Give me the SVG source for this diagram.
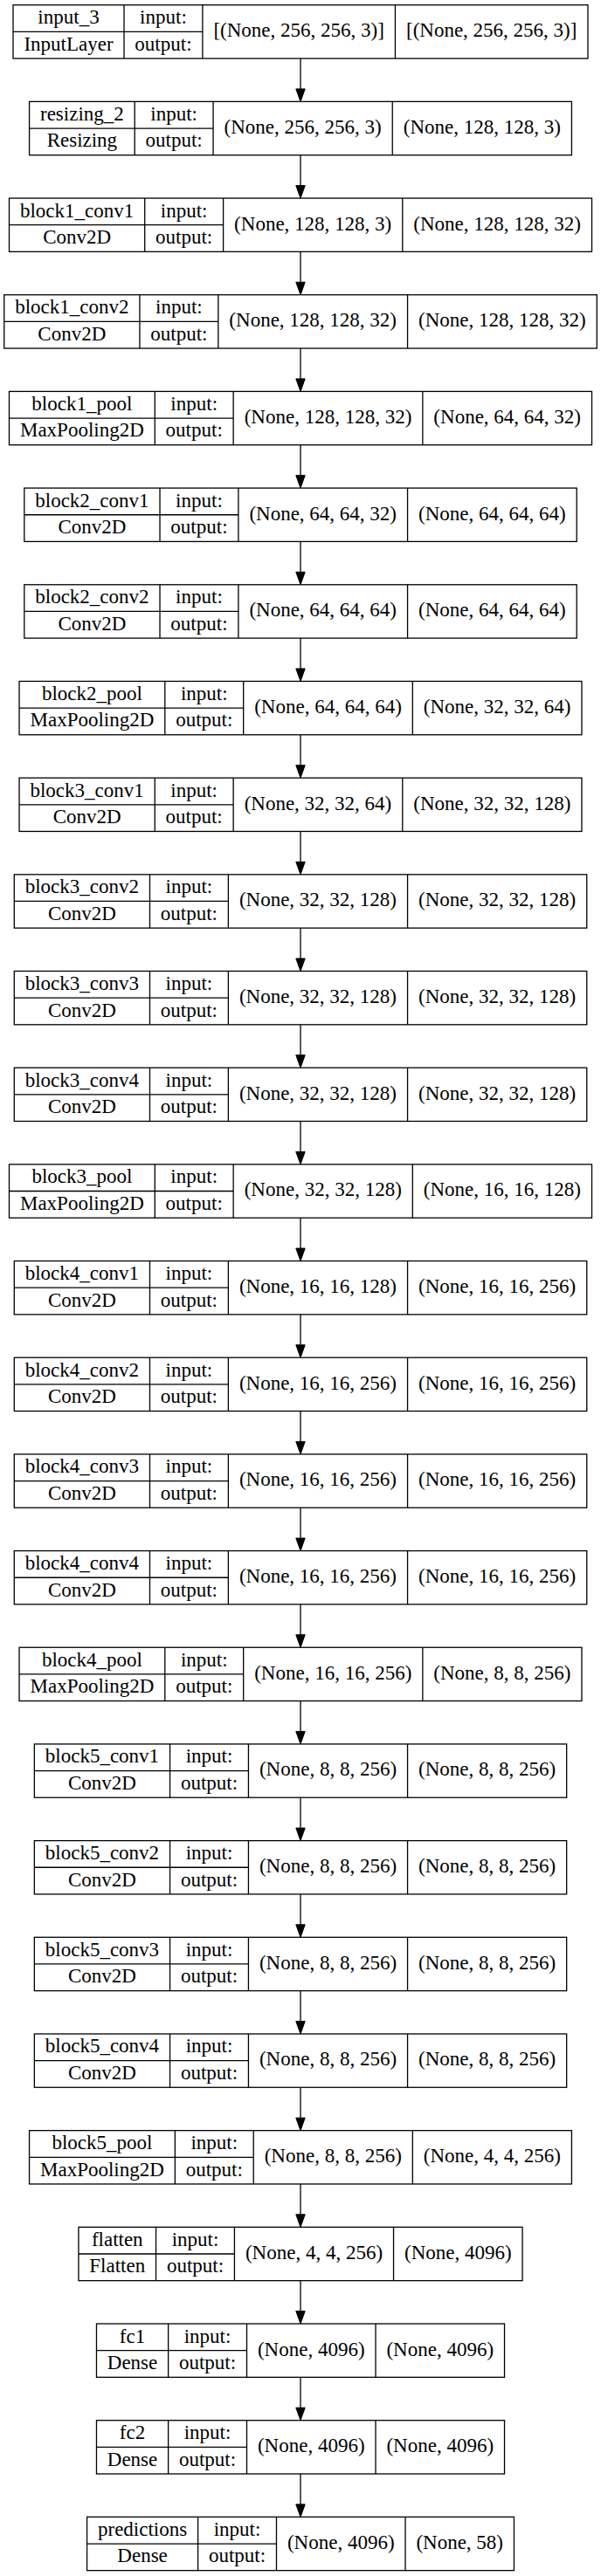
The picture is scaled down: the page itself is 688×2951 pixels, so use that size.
<svg xmlns="http://www.w3.org/2000/svg" width="688" height="2951" viewBox="0 0 688 2951">
<defs>
<style>
.node rect{fill:#fff;stroke:#000;stroke-width:1.3}
.node path{fill:none;stroke:#000;stroke-width:1.3}
.node text{font-family:"Liberation Serif","Times New Roman",serif;font-size:23px;text-anchor:middle;fill:#000}
.edges path{fill:none;stroke:#000;stroke-width:1.3}
</style>
<marker id="ah" markerUnits="userSpaceOnUse" markerWidth="16" markerHeight="12" refX="0" refY="5.2" orient="auto" overflow="visible">
<path d="M0,0 L14.5,5.2 L0,10.4 z" fill="#000" stroke="#000" stroke-width="1"/>
</marker>
</defs>
<rect x="0" y="0" width="688" height="2951" fill="#fff"/>
<g class="edges" id="connectors">
<path marker-end="url(#ah)" d="M344,67.0V101.88"/>
<path marker-end="url(#ah)" d="M344,177.68V212.56"/>
<path marker-end="url(#ah)" d="M344,288.36V323.24"/>
<path marker-end="url(#ah)" d="M344,399.04V433.92"/>
<path marker-end="url(#ah)" d="M344,509.72V544.60"/>
<path marker-end="url(#ah)" d="M344,620.40V655.28"/>
<path marker-end="url(#ah)" d="M344,731.08V765.96"/>
<path marker-end="url(#ah)" d="M344,841.76V876.64"/>
<path marker-end="url(#ah)" d="M344,952.44V987.32"/>
<path marker-end="url(#ah)" d="M344,1063.12V1098.00"/>
<path marker-end="url(#ah)" d="M344,1173.80V1208.68"/>
<path marker-end="url(#ah)" d="M344,1284.48V1319.36"/>
<path marker-end="url(#ah)" d="M344,1395.16V1430.04"/>
<path marker-end="url(#ah)" d="M344,1505.84V1540.72"/>
<path marker-end="url(#ah)" d="M344,1616.52V1651.40"/>
<path marker-end="url(#ah)" d="M344,1727.20V1762.08"/>
<path marker-end="url(#ah)" d="M344,1837.88V1872.76"/>
<path marker-end="url(#ah)" d="M344,1948.56V1983.44"/>
<path marker-end="url(#ah)" d="M344,2059.24V2094.12"/>
<path marker-end="url(#ah)" d="M344,2169.92V2204.80"/>
<path marker-end="url(#ah)" d="M344,2280.60V2315.48"/>
<path marker-end="url(#ah)" d="M344,2391.28V2426.16"/>
<path marker-end="url(#ah)" d="M344,2501.96V2536.84"/>
<path marker-end="url(#ah)" d="M344,2612.64V2647.52"/>
<path marker-end="url(#ah)" d="M344,2723.32V2758.20"/>
<path marker-end="url(#ah)" d="M344,2834.00V2868.88"/>
</g>

<g id="input_3" class="node" transform="translate(0,5.7)">
<rect x="15.01" y="0" width="657.98" height="61.3"/>
<path d="M142.01,0V61.3M231.89,0V61.3M452.44,0V61.3M15.01,30.65H231.89"/>
<text x="78.51" y="21.5">input_3</text><text x="78.51" y="52">InputLayer</text>
<text x="186.95" y="21.5">input:</text><text x="186.95" y="52">output:</text>
<text x="342.17" y="36.5">[(None, 256, 256, 3)]</text><text x="562.72" y="36.5">[(None, 256, 256, 3)]</text>
</g>

<g id="resizing_2" class="node" transform="translate(0,116.38)">
<rect x="33.58" y="0" width="620.85" height="61.3"/>
<path d="M154.19,0V61.3M244.07,0V61.3M449.25,0V61.3M33.58,30.65H244.07"/>
<text x="93.88" y="21.5">resizing_2</text><text x="93.88" y="52">Resizing</text>
<text x="199.13" y="21.5">input:</text><text x="199.13" y="52">output:</text>
<text x="346.66" y="36.5">(None, 256, 256, 3)</text><text x="551.84" y="36.5">(None, 128, 128, 3)</text>
</g>

<g id="block1_conv1" class="node" transform="translate(0,227.06)">
<rect x="10.51" y="0" width="666.99" height="61.3"/>
<path d="M165.72,0V61.3M255.60,0V61.3M460.78,0V61.3M10.51,30.65H255.60"/>
<text x="88.11" y="21.5">block1_conv1</text><text x="88.11" y="52">Conv2D</text>
<text x="210.66" y="21.5">input:</text><text x="210.66" y="52">output:</text>
<text x="358.19" y="36.5">(None, 128, 128, 3)</text><text x="569.14" y="36.5">(None, 128, 128, 32)</text>
</g>

<g id="block1_conv2" class="node" transform="translate(0,337.74)">
<rect x="4.74" y="0" width="678.53" height="61.3"/>
<path d="M159.95,0V61.3M249.83,0V61.3M466.55,0V61.3M4.74,30.65H249.83"/>
<text x="82.34" y="21.5">block1_conv2</text><text x="82.34" y="52">Conv2D</text>
<text x="204.89" y="21.5">input:</text><text x="204.89" y="52">output:</text>
<text x="358.19" y="36.5">(None, 128, 128, 32)</text><text x="574.91" y="36.5">(None, 128, 128, 32)</text>
</g>

<g id="block1_pool" class="node" transform="translate(0,448.42)">
<rect x="10.49" y="0" width="667.02" height="61.3"/>
<path d="M177.26,0V61.3M267.14,0V61.3M483.86,0V61.3M10.49,30.65H267.14"/>
<text x="93.87" y="21.5">block1_pool</text><text x="93.87" y="52">MaxPooling2D</text>
<text x="222.20" y="21.5">input:</text><text x="222.20" y="52">output:</text>
<text x="375.50" y="36.5">(None, 128, 128, 32)</text><text x="580.69" y="36.5">(None, 64, 64, 32)</text>
</g>

<g id="block2_conv1" class="node" transform="translate(0,559.10)">
<rect x="27.81" y="0" width="632.39" height="61.3"/>
<path d="M183.02,0V61.3M272.90,0V61.3M466.55,0V61.3M27.81,30.65H272.90"/>
<text x="105.41" y="21.5">block2_conv1</text><text x="105.41" y="52">Conv2D</text>
<text x="227.96" y="21.5">input:</text><text x="227.96" y="52">output:</text>
<text x="369.72" y="36.5">(None, 64, 64, 32)</text><text x="563.38" y="36.5">(None, 64, 64, 64)</text>
</g>

<g id="block2_conv2" class="node" transform="translate(0,669.78)">
<rect x="27.81" y="0" width="632.39" height="61.3"/>
<path d="M183.02,0V61.3M272.90,0V61.3M466.55,0V61.3M27.81,30.65H272.90"/>
<text x="105.41" y="21.5">block2_conv2</text><text x="105.41" y="52">Conv2D</text>
<text x="227.96" y="21.5">input:</text><text x="227.96" y="52">output:</text>
<text x="369.72" y="36.5">(None, 64, 64, 64)</text><text x="563.38" y="36.5">(None, 64, 64, 64)</text>
</g>

<g id="block2_pool" class="node" transform="translate(0,780.46)">
<rect x="22.03" y="0" width="643.95" height="61.3"/>
<path d="M188.80,0V61.3M278.68,0V61.3M472.33,0V61.3M22.03,30.65H278.68"/>
<text x="105.41" y="21.5">block2_pool</text><text x="105.41" y="52">MaxPooling2D</text>
<text x="233.74" y="21.5">input:</text><text x="233.74" y="52">output:</text>
<text x="375.50" y="36.5">(None, 64, 64, 64)</text><text x="569.15" y="36.5">(None, 32, 32, 64)</text>
</g>

<g id="block3_conv1" class="node" transform="translate(0,891.14)">
<rect x="22.04" y="0" width="643.92" height="61.3"/>
<path d="M177.25,0V61.3M267.13,0V61.3M460.78,0V61.3M22.04,30.65H267.13"/>
<text x="99.64" y="21.5">block3_conv1</text><text x="99.64" y="52">Conv2D</text>
<text x="222.19" y="21.5">input:</text><text x="222.19" y="52">output:</text>
<text x="363.95" y="36.5">(None, 32, 32, 64)</text><text x="563.37" y="36.5">(None, 32, 32, 128)</text>
</g>

<g id="block3_conv2" class="node" transform="translate(0,1001.82)">
<rect x="16.28" y="0" width="655.45" height="61.3"/>
<path d="M171.49,0V61.3M261.37,0V61.3M466.55,0V61.3M16.28,30.65H261.37"/>
<text x="93.88" y="21.5">block3_conv2</text><text x="93.88" y="52">Conv2D</text>
<text x="216.43" y="21.5">input:</text><text x="216.43" y="52">output:</text>
<text x="363.96" y="36.5">(None, 32, 32, 128)</text><text x="569.14" y="36.5">(None, 32, 32, 128)</text>
</g>

<g id="block3_conv3" class="node" transform="translate(0,1112.50)">
<rect x="16.28" y="0" width="655.45" height="61.3"/>
<path d="M171.49,0V61.3M261.37,0V61.3M466.55,0V61.3M16.28,30.65H261.37"/>
<text x="93.88" y="21.5">block3_conv3</text><text x="93.88" y="52">Conv2D</text>
<text x="216.43" y="21.5">input:</text><text x="216.43" y="52">output:</text>
<text x="363.96" y="36.5">(None, 32, 32, 128)</text><text x="569.14" y="36.5">(None, 32, 32, 128)</text>
</g>

<g id="block3_conv4" class="node" transform="translate(0,1223.18)">
<rect x="16.28" y="0" width="655.45" height="61.3"/>
<path d="M171.49,0V61.3M261.37,0V61.3M466.55,0V61.3M16.28,30.65H261.37"/>
<text x="93.88" y="21.5">block3_conv4</text><text x="93.88" y="52">Conv2D</text>
<text x="216.43" y="21.5">input:</text><text x="216.43" y="52">output:</text>
<text x="363.96" y="36.5">(None, 32, 32, 128)</text><text x="569.14" y="36.5">(None, 32, 32, 128)</text>
</g>

<g id="block3_pool" class="node" transform="translate(0,1333.86)">
<rect x="10.50" y="0" width="667.01" height="61.3"/>
<path d="M177.27,0V61.3M267.15,0V61.3M472.33,0V61.3M10.50,30.65H267.15"/>
<text x="93.88" y="21.5">block3_pool</text><text x="93.88" y="52">MaxPooling2D</text>
<text x="222.21" y="21.5">input:</text><text x="222.21" y="52">output:</text>
<text x="369.74" y="36.5">(None, 32, 32, 128)</text><text x="574.92" y="36.5">(None, 16, 16, 128)</text>
</g>

<g id="block4_conv1" class="node" transform="translate(0,1444.54)">
<rect x="16.28" y="0" width="655.45" height="61.3"/>
<path d="M171.49,0V61.3M261.37,0V61.3M466.55,0V61.3M16.28,30.65H261.37"/>
<text x="93.88" y="21.5">block4_conv1</text><text x="93.88" y="52">Conv2D</text>
<text x="216.43" y="21.5">input:</text><text x="216.43" y="52">output:</text>
<text x="363.96" y="36.5">(None, 16, 16, 128)</text><text x="569.14" y="36.5">(None, 16, 16, 256)</text>
</g>

<g id="block4_conv2" class="node" transform="translate(0,1555.22)">
<rect x="16.28" y="0" width="655.45" height="61.3"/>
<path d="M171.49,0V61.3M261.37,0V61.3M466.55,0V61.3M16.28,30.65H261.37"/>
<text x="93.88" y="21.5">block4_conv2</text><text x="93.88" y="52">Conv2D</text>
<text x="216.43" y="21.5">input:</text><text x="216.43" y="52">output:</text>
<text x="363.96" y="36.5">(None, 16, 16, 256)</text><text x="569.14" y="36.5">(None, 16, 16, 256)</text>
</g>

<g id="block4_conv3" class="node" transform="translate(0,1665.90)">
<rect x="16.28" y="0" width="655.45" height="61.3"/>
<path d="M171.49,0V61.3M261.37,0V61.3M466.55,0V61.3M16.28,30.65H261.37"/>
<text x="93.88" y="21.5">block4_conv3</text><text x="93.88" y="52">Conv2D</text>
<text x="216.43" y="21.5">input:</text><text x="216.43" y="52">output:</text>
<text x="363.96" y="36.5">(None, 16, 16, 256)</text><text x="569.14" y="36.5">(None, 16, 16, 256)</text>
</g>

<g id="block4_conv4" class="node" transform="translate(0,1776.58)">
<rect x="16.28" y="0" width="655.45" height="61.3"/>
<path d="M171.49,0V61.3M261.37,0V61.3M466.55,0V61.3M16.28,30.65H261.37"/>
<text x="93.88" y="21.5">block4_conv4</text><text x="93.88" y="52">Conv2D</text>
<text x="216.43" y="21.5">input:</text><text x="216.43" y="52">output:</text>
<text x="363.96" y="36.5">(None, 16, 16, 256)</text><text x="569.14" y="36.5">(None, 16, 16, 256)</text>
</g>

<g id="block4_pool" class="node" transform="translate(0,1887.26)">
<rect x="22.03" y="0" width="643.94" height="61.3"/>
<path d="M188.80,0V61.3M278.68,0V61.3M483.86,0V61.3M22.03,30.65H278.68"/>
<text x="105.41" y="21.5">block4_pool</text><text x="105.41" y="52">MaxPooling2D</text>
<text x="233.74" y="21.5">input:</text><text x="233.74" y="52">output:</text>
<text x="381.27" y="36.5">(None, 16, 16, 256)</text><text x="574.92" y="36.5">(None, 8, 8, 256)</text>
</g>

<g id="block5_conv1" class="node" transform="translate(0,1997.94)">
<rect x="39.35" y="0" width="609.31" height="61.3"/>
<path d="M194.56,0V61.3M284.44,0V61.3M466.55,0V61.3M39.35,30.65H284.44"/>
<text x="116.95" y="21.5">block5_conv1</text><text x="116.95" y="52">Conv2D</text>
<text x="239.50" y="21.5">input:</text><text x="239.50" y="52">output:</text>
<text x="375.50" y="36.5">(None, 8, 8, 256)</text><text x="557.60" y="36.5">(None, 8, 8, 256)</text>
</g>

<g id="block5_conv2" class="node" transform="translate(0,2108.62)">
<rect x="39.35" y="0" width="609.31" height="61.3"/>
<path d="M194.56,0V61.3M284.44,0V61.3M466.55,0V61.3M39.35,30.65H284.44"/>
<text x="116.95" y="21.5">block5_conv2</text><text x="116.95" y="52">Conv2D</text>
<text x="239.50" y="21.5">input:</text><text x="239.50" y="52">output:</text>
<text x="375.50" y="36.5">(None, 8, 8, 256)</text><text x="557.60" y="36.5">(None, 8, 8, 256)</text>
</g>

<g id="block5_conv3" class="node" transform="translate(0,2219.30)">
<rect x="39.35" y="0" width="609.31" height="61.3"/>
<path d="M194.56,0V61.3M284.44,0V61.3M466.55,0V61.3M39.35,30.65H284.44"/>
<text x="116.95" y="21.5">block5_conv3</text><text x="116.95" y="52">Conv2D</text>
<text x="239.50" y="21.5">input:</text><text x="239.50" y="52">output:</text>
<text x="375.50" y="36.5">(None, 8, 8, 256)</text><text x="557.60" y="36.5">(None, 8, 8, 256)</text>
</g>

<g id="block5_conv4" class="node" transform="translate(0,2329.98)">
<rect x="39.35" y="0" width="609.31" height="61.3"/>
<path d="M194.56,0V61.3M284.44,0V61.3M466.55,0V61.3M39.35,30.65H284.44"/>
<text x="116.95" y="21.5">block5_conv4</text><text x="116.95" y="52">Conv2D</text>
<text x="239.50" y="21.5">input:</text><text x="239.50" y="52">output:</text>
<text x="375.50" y="36.5">(None, 8, 8, 256)</text><text x="557.60" y="36.5">(None, 8, 8, 256)</text>
</g>

<g id="block5_pool" class="node" transform="translate(0,2440.66)">
<rect x="33.57" y="0" width="620.87" height="61.3"/>
<path d="M200.34,0V61.3M290.22,0V61.3M472.33,0V61.3M33.57,30.65H290.22"/>
<text x="116.95" y="21.5">block5_pool</text><text x="116.95" y="52">MaxPooling2D</text>
<text x="245.28" y="21.5">input:</text><text x="245.28" y="52">output:</text>
<text x="381.27" y="36.5">(None, 8, 8, 256)</text><text x="563.38" y="36.5">(None, 4, 4, 256)</text>
</g>

<g id="flatten" class="node" transform="translate(0,2551.34)">
<rect x="89.96" y="0" width="508.09" height="61.3"/>
<path d="M178.55,0V61.3M268.43,0V61.3M450.54,0V61.3M89.96,30.65H268.43"/>
<text x="134.25" y="21.5">flatten</text><text x="134.25" y="52">Flatten</text>
<text x="223.49" y="21.5">input:</text><text x="223.49" y="52">output:</text>
<text x="359.48" y="36.5">(None, 4, 4, 256)</text><text x="524.29" y="36.5">(None, 4096)</text>
</g>

<g id="fc1" class="node" transform="translate(0,2662.02)">
<rect x="110.48" y="0" width="467.05" height="61.3"/>
<path d="M192.63,0V61.3M282.51,0V61.3M430.02,0V61.3M110.48,30.65H282.51"/>
<text x="151.55" y="21.5">fc1</text><text x="151.55" y="52">Dense</text>
<text x="237.57" y="21.5">input:</text><text x="237.57" y="52">output:</text>
<text x="356.26" y="36.5">(None, 4096)</text><text x="503.77" y="36.5">(None, 4096)</text>
</g>

<g id="fc2" class="node" transform="translate(0,2772.70)">
<rect x="110.48" y="0" width="467.05" height="61.3"/>
<path d="M192.63,0V61.3M282.51,0V61.3M430.02,0V61.3M110.48,30.65H282.51"/>
<text x="151.55" y="21.5">fc2</text><text x="151.55" y="52">Dense</text>
<text x="237.57" y="21.5">input:</text><text x="237.57" y="52">output:</text>
<text x="356.26" y="36.5">(None, 4096)</text><text x="503.77" y="36.5">(None, 4096)</text>
</g>

<g id="predictions" class="node" transform="translate(0,2883.38)">
<rect x="99.58" y="0" width="488.85" height="61.3"/>
<path d="M226.60,0V61.3M316.48,0V61.3M463.99,0V61.3M99.58,30.65H316.48"/>
<text x="163.09" y="21.5">predictions</text><text x="163.09" y="52">Dense</text>
<text x="271.54" y="21.5">input:</text><text x="271.54" y="52">output:</text>
<text x="390.24" y="36.5">(None, 4096)</text><text x="526.21" y="36.5">(None, 58)</text>
</g>
</svg>
